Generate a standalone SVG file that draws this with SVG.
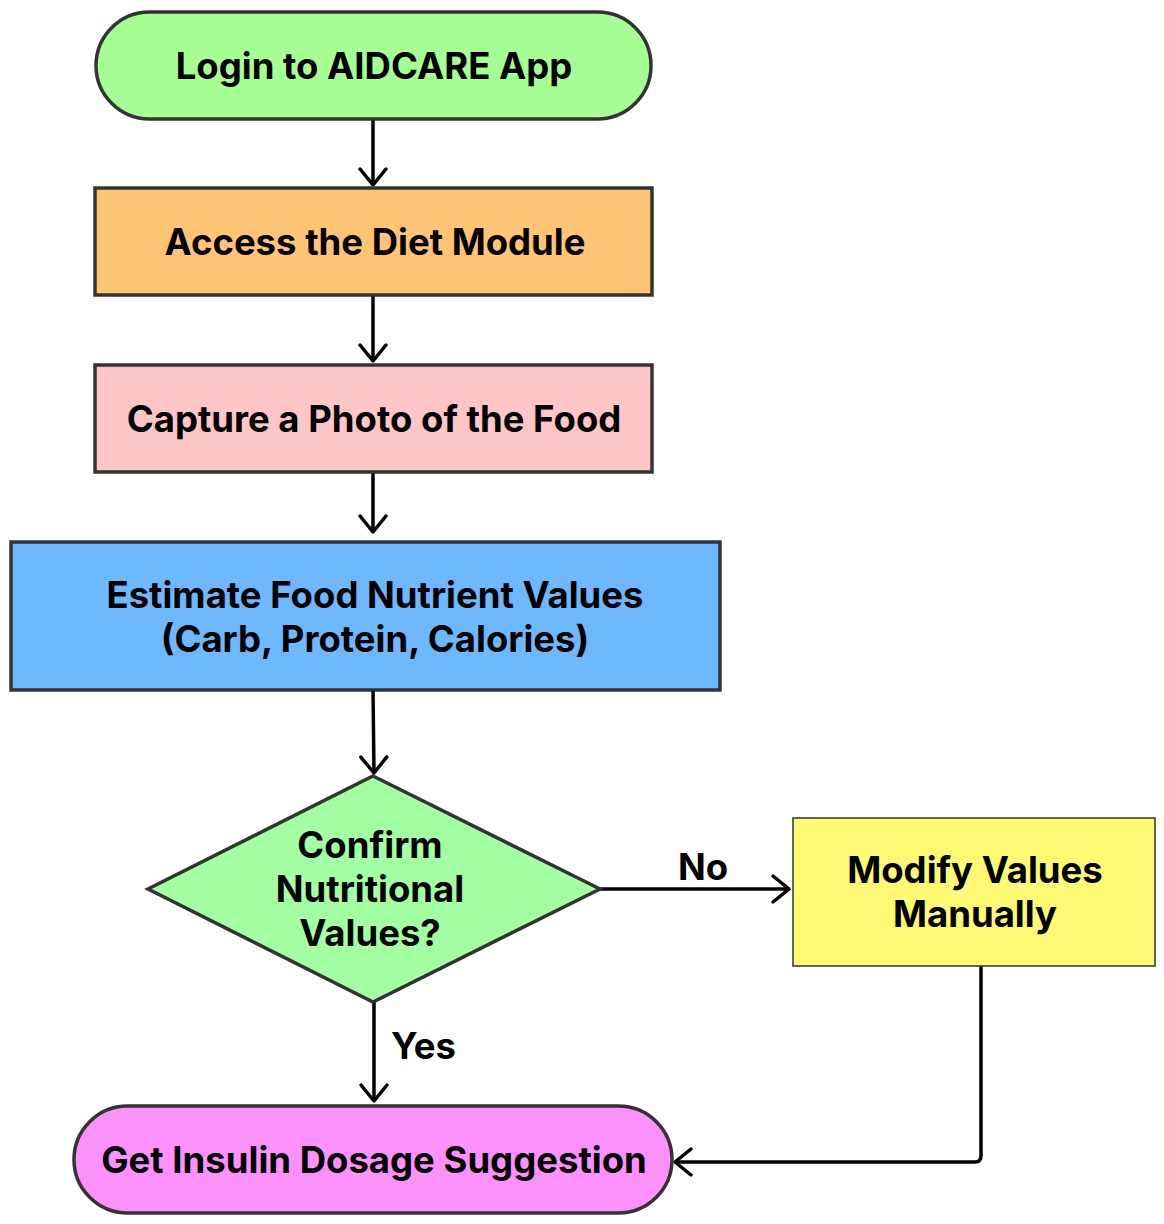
<svg xmlns="http://www.w3.org/2000/svg" width="1164" height="1224" viewBox="0 0 1164 1224">
<defs>
<marker id="arr" viewBox="0 0 32 32" refX="19" refY="16" markerWidth="32" markerHeight="32" markerUnits="userSpaceOnUse" orient="auto">
<path d="M3,3 L19,16 L3,29" fill="none" stroke="#000" stroke-width="3.5" stroke-linecap="round" stroke-linejoin="round"/>
</marker>
<style>
.n{stroke:#333;stroke-width:3.5}
.t{font-family:Inter,"Liberation Sans",sans-serif;font-weight:700;font-size:36.5px;fill:#000;text-anchor:middle}
.c{fill:none;stroke:#000;stroke-width:3.5;marker-end:url(#arr)}
</style>
</defs>
<rect width="1164" height="1224" fill="#fff"/>
<g id="connectors">
<path class="c" d="M373,119 V185"/>
<path class="c" d="M373,296 V361"/>
<path class="c" d="M373,473 V532"/>
<path class="c" d="M373,690 L374,773"/>
<path class="c" d="M600,889 H789"/>
<path class="c" d="M374,1002 V1101"/>
<path class="c" d="M981,966 V1156 Q981,1162 975,1162 H675"/>
<text class="t" x="703" y="880">No</text>
<text class="t" x="391" y="1059" style="text-anchor:start">Yes</text>
</g>
<g id="login">
<rect class="n" x="96" y="12" width="555" height="107" rx="53.5" fill="#a6ff92"/>
<text class="t" x="374" y="79">Login to AIDCARE App</text>
</g>
<g id="access">
<rect class="n" x="95" y="188" width="557" height="107" fill="#ffc575"/>
<text class="t" x="375" y="255">Access the Diet Module</text>
</g>
<g id="capture">
<rect class="n" x="95" y="365" width="557" height="107" fill="#ffc6c6"/>
<text class="t" x="374" y="432">Capture a Photo of the Food</text>
</g>
<g id="estimate">
<rect class="n" x="11" y="542" width="709" height="148" fill="#6db8ff"/>
<text class="t" x="375" y="608">Estimate Food Nutrient Values</text>
<text class="t" x="375" y="652">(Carb, Protein, Calories)</text>
</g>
<g id="confirm">
<polygon class="n" points="373,776 600,889 373,1002 148,889" fill="#a2ffa2"/>
<text class="t" x="370" y="858">Confirm</text>
<text class="t" x="370" y="902">Nutritional</text>
<text class="t" x="370" y="946">Values?</text>
</g>
<g id="modify">
<rect x="793" y="818" width="362" height="148" fill="#fff974" stroke="#333" stroke-width="1.5"/>
<text class="t" x="975" y="883">Modify Values</text>
<text class="t" x="975" y="927">Manually</text>
</g>
<g id="insulin">
<rect class="n" x="74" y="1106" width="598" height="107" rx="53.5" fill="#fd91fb"/>
<text class="t" x="374" y="1173">Get Insulin Dosage Suggestion</text>
</g>
</svg>
